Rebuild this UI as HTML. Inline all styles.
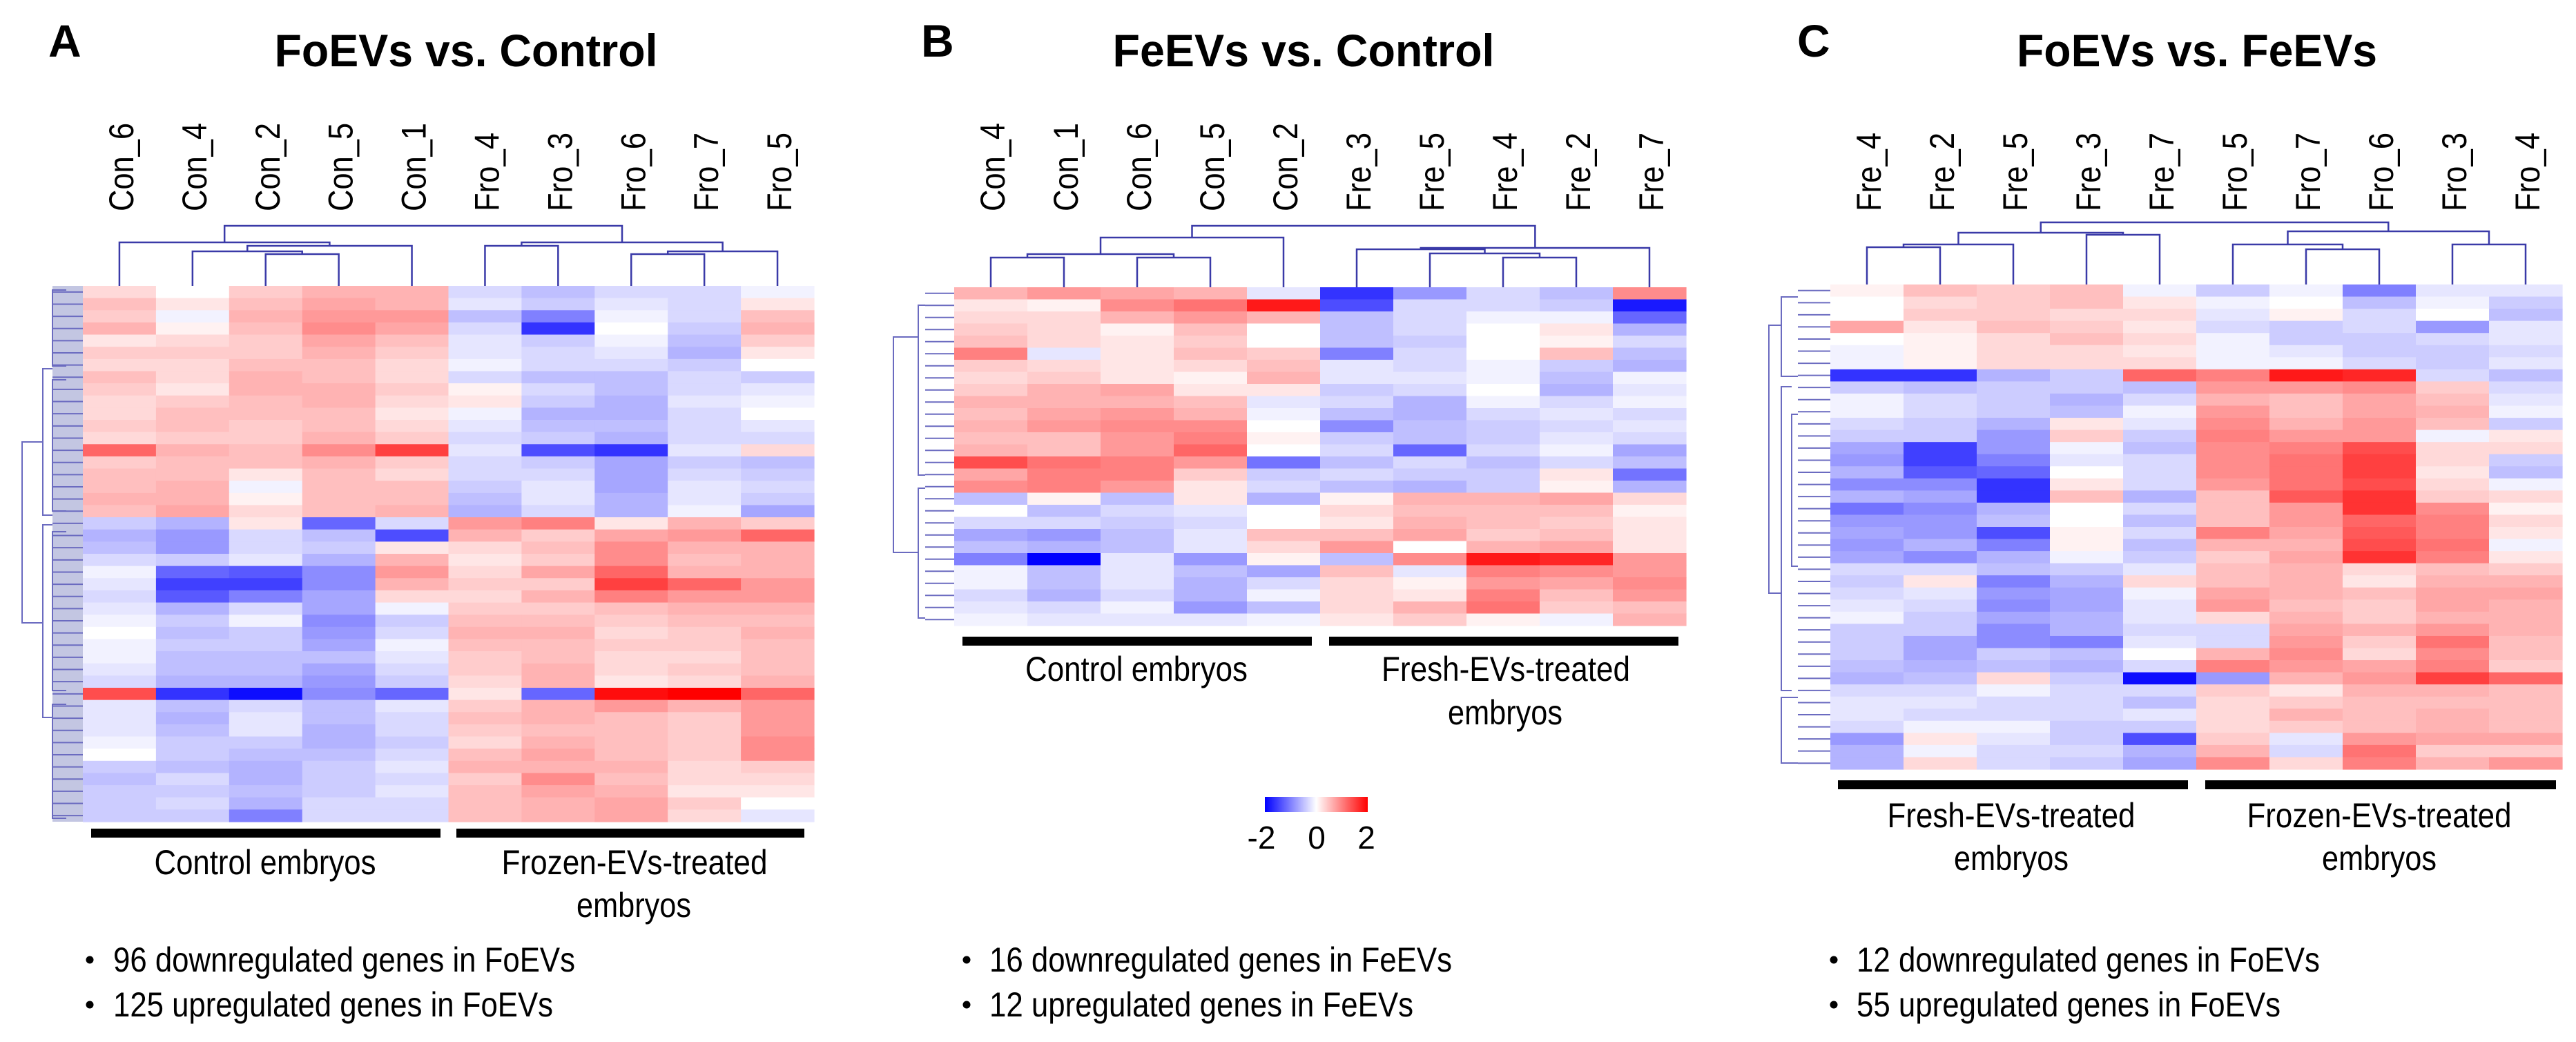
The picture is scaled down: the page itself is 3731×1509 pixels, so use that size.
<!DOCTYPE html>
<html><head><meta charset="utf-8"><style>
html,body{margin:0;padding:0;background:#fff;}
svg{display:block;font-family:"Liberation Sans",Arial,sans-serif;}
</style></head><body>
<svg id="fig" width="3731" height="1509" viewBox="0 0 3731 1509" xmlns="http://www.w3.org/2000/svg">
<text x="70" y="82" font-size="66" font-weight="bold">A</text>
<text x="1334" y="82" font-size="66" font-weight="bold">B</text>
<text x="2603" y="82" font-size="66" font-weight="bold">C</text>
<text x="675" y="96" font-size="66" font-weight="bold" text-anchor="middle" textLength="555" lengthAdjust="spacingAndGlyphs">FoEVs vs. Control</text>
<text x="1888" y="96" font-size="66" font-weight="bold" text-anchor="middle" textLength="553" lengthAdjust="spacingAndGlyphs">FeEVs vs. Control</text>
<text x="3182" y="96" font-size="66" font-weight="bold" text-anchor="middle" textLength="522" lengthAdjust="spacingAndGlyphs">FoEVs vs. FeEVs</text>

<!-- group bars & labels -->
<rect x="132" y="1200" width="506" height="13" fill="#000"/>
<rect x="661" y="1200" width="504" height="13" fill="#000"/>
<text x="384" y="1266" font-size="50" text-anchor="middle" textLength="321" lengthAdjust="spacingAndGlyphs">Control embryos</text>
<text x="919" y="1266" font-size="50" text-anchor="middle" textLength="385" lengthAdjust="spacingAndGlyphs">Frozen-EVs-treated</text>
<text x="918" y="1328" font-size="50" text-anchor="middle" textLength="166" lengthAdjust="spacingAndGlyphs">embryos</text>

<rect x="1394" y="922" width="506" height="13" fill="#000"/>
<rect x="1925" y="922" width="506" height="13" fill="#000"/>
<text x="1646" y="986" font-size="50" text-anchor="middle" textLength="322" lengthAdjust="spacingAndGlyphs">Control embryos</text>
<text x="2181" y="986" font-size="50" text-anchor="middle" textLength="360" lengthAdjust="spacingAndGlyphs">Fresh-EVs-treated</text>
<text x="2180" y="1049" font-size="50" text-anchor="middle" textLength="166" lengthAdjust="spacingAndGlyphs">embryos</text>

<rect x="2662" y="1130" width="507" height="13" fill="#000"/>
<rect x="3194" y="1130" width="508" height="13" fill="#000"/>
<text x="2913" y="1198" font-size="50" text-anchor="middle" textLength="359" lengthAdjust="spacingAndGlyphs">Fresh-EVs-treated</text>
<text x="2913" y="1260" font-size="50" text-anchor="middle" textLength="166" lengthAdjust="spacingAndGlyphs">embryos</text>
<text x="3446" y="1198" font-size="50" text-anchor="middle" textLength="383" lengthAdjust="spacingAndGlyphs">Frozen-EVs-treated</text>
<text x="3446" y="1260" font-size="50" text-anchor="middle" textLength="166" lengthAdjust="spacingAndGlyphs">embryos</text>

<!-- colour key -->
<defs><linearGradient id="key" x1="0" x2="1" y1="0" y2="0">
<stop offset="0" stop-color="#0000ff"/><stop offset="0.5" stop-color="#ffffff"/><stop offset="1" stop-color="#ff0000"/></linearGradient></defs>
<rect x="1832" y="1154" width="149" height="22" fill="url(#key)"/>
<text x="1827" y="1229" font-size="46" text-anchor="middle">-2</text>
<text x="1907" y="1229" font-size="46" text-anchor="middle">0</text>
<text x="1979" y="1229" font-size="46" text-anchor="middle">2</text>

<!-- bullets -->
<g font-size="50">
<circle cx="130" cy="1390" r="5.5" fill="#000"/><text x="164" y="1407" textLength="669" lengthAdjust="spacingAndGlyphs">96 downregulated genes in FoEVs</text>
<circle cx="130" cy="1455" r="5.5" fill="#000"/><text x="164" y="1472" textLength="637" lengthAdjust="spacingAndGlyphs">125 upregulated genes in FoEVs</text></g>
<g font-size="50">
<circle cx="1400" cy="1390" r="5.5" fill="#000"/><text x="1433" y="1407" textLength="670" lengthAdjust="spacingAndGlyphs">16 downregulated genes in FeEVs</text>
<circle cx="1400" cy="1455" r="5.5" fill="#000"/><text x="1433" y="1472" textLength="614" lengthAdjust="spacingAndGlyphs">12 upregulated genes in FeEVs</text></g>
<g font-size="50">
<circle cx="2656" cy="1390" r="5.5" fill="#000"/><text x="2689" y="1407" textLength="671" lengthAdjust="spacingAndGlyphs">12 downregulated genes in FoEVs</text>
<circle cx="2656" cy="1455" r="5.5" fill="#000"/><text x="2689" y="1472" textLength="614" lengthAdjust="spacingAndGlyphs">55 upregulated genes in FoEVs</text></g>
</svg>
<script>
const aLabels=["Con_6","Con_4","Con_2","Con_5","Con_1","Fro_4","Fro_3","Fro_6","Fro_7","Fro_5"];
const bLabels=["Con_4","Con_1","Con_6","Con_5","Con_2","Fre_3","Fre_5","Fre_4","Fre_2","Fre_7"];
const cLabels=["Fre_4","Fre_2","Fre_5","Fre_3","Fre_7","Fro_5","Fro_7","Fro_6","Fro_3","Fro_4"];
const aValues=[
[.3,0,.4,.6,.6,-.3,-.5,-.3,-.3,-.1],[.5,.2,.5,.7,.6,-.2,-.4,-.2,-.3,.2],[.4,-.1,.6,.8,.8,-.5,-1.0,-.1,-.3,.5],
[.6,.1,.5,.9,.7,-.3,-1.6,0,-.4,.6],[.2,.3,.4,.7,.5,-.2,-.4,-.1,-.5,.4],[.4,.4,.4,.6,.4,-.2,-.3,-.2,-.6,.2],
[.3,.3,.5,.5,.3,-.1,-.3,-.3,-.4,0],[.5,.3,.6,.5,.3,-.3,-.5,-.5,-.3,-.4],[.4,.2,.6,.6,.4,.1,-.3,-.5,-.3,-.2],
[.3,.4,.5,.6,.3,.2,-.4,-.6,-.2,-.1],[.3,.5,.5,.5,.2,-.1,-.6,-.6,-.3,0],[.4,.5,.4,.5,.3,-.2,-.5,-.5,-.3,-.2],
[.3,.4,.4,.6,.4,-.3,-.4,-.6,-.3,-.3],[1.2,.6,.5,.9,1.5,-.2,-1.4,-1.6,-.2,.3],[.4,.5,.5,.6,.4,-.3,-.4,-.7,-.4,-.5],
[.5,.5,.2,.5,.3,-.3,-.3,-.7,-.3,-.4],[.5,.6,-.1,.5,.5,-.4,-.2,-.7,-.2,-.3],[.6,.6,.1,.5,.5,-.5,-.2,-.6,-.2,-.4],
[.5,.7,.3,.5,.6,-.6,-.3,-.6,-.1,-.7],[-.4,-.6,.2,-1.2,-.3,.8,1.0,.2,.6,.4],[-.6,-.8,-.3,-.5,-1.4,.6,.4,.7,.8,1.2],
[-.5,-.8,-.3,-.4,.2,.3,.5,.9,.6,.6],[-.3,-.4,-.2,-.6,.6,.2,.4,.9,.5,.6],[-.1,-1.2,-1.3,-.9,.8,.3,.7,1.2,.6,.6],
[-.2,-1.5,-1.5,-.9,.6,.4,.4,1.5,1.2,.8],[-.3,-1.3,-1.0,-.7,.3,.3,.6,1.0,.8,.8],[-.2,-.6,-.3,-.7,-.1,.4,.4,.5,.6,.6],
[-.1,-.4,-.1,-.9,-.4,.5,.5,.4,.5,.5],[0,-.5,-.4,-.8,-.3,.6,.6,.3,.4,.6],[-.1,-.4,-.4,-.7,-.1,.5,.5,.4,.4,.5],
[-.1,-.5,-.5,-.5,-.2,.4,.5,.3,.3,.5],[-.2,-.5,-.5,-.7,-.3,.4,.6,.3,.4,.5],[-.3,-.6,-.6,-.8,-.4,.3,.6,.2,.3,.6],
[1.4,-1.6,-1.9,-.9,-1.2,.2,-1.2,1.9,2.0,1.2],[-.2,-.5,-.3,-.5,-.2,.4,.6,.8,.6,.8],[-.2,-.6,-.2,-.5,-.3,.5,.6,.5,.4,.8],
[-.2,-.5,-.2,-.6,-.3,.4,.5,.5,.4,.8],[-.1,-.4,-.4,-.6,-.4,.3,.6,.5,.4,.9],[0,-.4,-.5,-.5,-.3,.5,.7,.5,.4,.9],
[-.4,-.5,-.6,-.4,-.2,.6,.6,.6,.3,.4],[-.5,-.3,-.6,-.4,-.3,.4,.9,.5,.3,.3],[-.4,-.4,-.5,-.4,-.2,.5,.7,.6,.2,.2],
[-.4,-.3,-.6,-.3,-.3,.5,.6,.7,.4,0],[-.4,-.4,-1.0,-.3,-.3,.5,.6,.7,.3,-.2]];
const bValues=[
[.6,.8,.7,.6,-.2,-1.6,-.8,-.3,-.5,.9],[.2,.1,.9,1.1,1.8,-1.4,-.3,-.3,-.4,-1.8],[.3,.3,.6,.8,.6,-.5,-.3,-.1,-.1,-1.2],
[.4,.3,.1,.5,0,-.5,-.3,0,.2,-.6],[.5,.3,.2,.4,0,-.5,-.4,0,.1,-.3],[1.0,-.2,.2,.5,.4,-1.0,-.3,0,.5,-.5],
[.4,.3,.2,.3,.5,-.2,-.3,-.1,-.4,-.6],[.3,.4,.2,.1,.6,-.2,-.2,-.1,-.5,-.1],[.4,.6,.7,.2,.2,-.4,-.3,0,-.6,-.2],
[.6,.6,.6,.5,-.2,-.3,-.6,-.1,-.3,-.1],[.5,.7,.8,.6,-.1,-.5,-.6,-.3,-.2,-.3],[.6,.8,.9,.9,0,-.9,-.5,-.4,-.3,-.2],
[.5,.5,.8,1.0,.1,-.4,-.5,-.4,-.2,-.3],[.6,.5,.8,1.2,0,-.3,-1.2,-.3,-.1,-.7],[1.4,1.1,1.0,.8,-1.1,-.5,-.3,-.5,-.3,-.5],
[.7,1.0,1.0,.4,-.4,-.3,-.4,-.4,.2,-1.1],[.9,1.0,.8,.2,-.3,-.5,-.6,-.4,.1,-.6],[-.5,.1,-.5,.2,-.6,.1,.6,.6,.7,.3],
[0,-.5,-.3,-.2,0,.3,.5,.5,.5,.1],[-.3,-.3,-.4,-.3,0,.2,.6,.5,.4,.2],[-.7,-.8,-.5,-.2,.5,.5,.7,.4,.5,.2],
[-.5,-.6,-.5,-.2,.3,.8,0,.6,.7,.2],[-1.0,-2.0,-.2,-.8,.1,-.5,.9,1.8,1.7,.8],[-.1,-.5,-.2,-.5,-.7,.5,-.2,1.0,.9,.8],
[-.1,-.5,-.2,-.6,-.3,.3,.1,.8,.7,.9],[-.3,-.6,-.3,-.6,-.1,.3,.2,1.0,.5,.8],[-.2,-.3,-.1,-.8,-.5,.3,.6,1.1,.4,.5],
[-.1,-.2,-.2,-.2,-.1,.2,.4,.1,-.1,.6]];
const cValues=[
[.1,.5,.4,.5,-.1,-.4,-.1,-1.0,-.2,-.2],[0,.3,.4,.5,.2,-.1,0,-.5,-.1,-.4],[0,.4,.4,.3,.3,-.2,.1,-.3,0,-.5],
[.7,.2,.5,.4,.2,-.3,-.4,-.3,-.8,-.2],[0,.1,.3,.5,.3,-.1,-.4,-.4,-.3,-.2],[-.1,.1,.3,.3,.2,-.1,-.2,-.4,-.4,-.3],
[-.1,.1,.3,.3,.3,-.1,-.1,-.3,-.4,-.2],[-1.6,-1.6,-.6,-.4,1.2,1.0,1.8,1.7,-.3,-.5],[-.4,-.5,-.4,-.4,-.5,.8,.8,.9,.4,-.3],
[-.1,-.3,-.4,-.6,-.3,.6,.5,.7,.5,-.2],[-.1,-.3,-.4,-.5,-.1,.8,.5,.7,.6,-.1],[-.3,-.4,-.6,.2,-.2,.9,.6,.8,.5,-.4],
[-.4,-.4,-.8,.4,-.4,1.0,.8,.8,-.1,.2],[-.7,-1.5,-.8,-.1,-.5,.9,1.0,1.4,.3,.3],[-.8,-1.5,-1.0,-.2,-.3,.9,1.1,1.5,.3,-.4],
[-.6,-1.3,-1.2,0,-.3,.9,1.1,1.5,.2,-.5],[-.9,-.9,-1.6,.2,-.3,.8,1.1,1.4,.3,-.1],[-.6,-.7,-1.6,.5,-.6,.5,1.3,1.6,.4,.3],
[-1.1,-.9,-.6,0,-.3,.5,.8,1.6,.9,.1],[-.8,-.8,-.5,0,-.5,.5,.8,1.2,1.0,.3],[-.7,-.8,-1.4,.1,-.3,1.0,.7,1.3,1.0,.2],
[-.8,-.6,-1.0,.1,-.5,.6,.6,1.4,1.1,-.1],[-.7,-.9,-.6,-.1,-.4,.4,.7,1.6,1.0,.2],[-.3,-.3,-.5,-.4,-.2,.5,.6,.3,.5,.4],
[-.4,.2,-1.0,-.6,.3,.5,.6,.2,.6,.6],[-.3,-.2,-.8,-.7,-.1,.7,.6,.5,.7,.7],[-.2,-.3,-.9,-.7,-.2,.8,.5,.4,.7,.6],
[-.1,-.4,-.7,-.6,-.2,.3,.6,.4,.6,.6],[-.4,-.4,-.9,-.6,-.3,-.3,.7,.6,.8,.6],[-.4,-.7,-.9,-1.0,-.2,-.3,.8,.4,1.1,.5],
[-.4,-.7,-.4,-.5,0,.6,.9,.3,.9,.5],[-.5,-.6,-.5,-.6,-.3,1.0,.8,.7,1.0,.4],[-.6,-.5,.3,-.4,-1.9,-.8,.6,.8,1.5,1.2],
[-.3,-.3,-.1,-.3,-.3,.4,.2,.6,.6,.5],[-.2,-.2,-.3,-.3,-.5,.3,.4,.5,.5,.5],[-.2,-.3,-.3,-.3,-.2,.3,.6,.5,.6,.5],
[-.3,-.1,-.1,-.4,-.4,.3,.4,.5,.6,.5],[-.8,.2,-.2,-.4,-1.4,.4,-.2,.8,.7,.7],[-.6,-.1,-.3,-.3,-.6,.6,-.3,1.1,.4,.4],
[-.6,.3,-.3,-.4,-.7,.9,.3,1.0,.6,.8]];
// column dendrograms: [left,right,mergeHeight]
const treeA=[[0,[[1,[2,3,46],50],4,58],63],[[5,6,58],[[7,8,46],9,50],63],87];
const treeB=[[[[0,1,43],[2,3,43],48],4,72],[[5,[6,[7,8,43],49],55],9,57],89];
const treeC=[[[[0,1,54],2,58],[3,4,72],75],[[5,[6,7,51],58],[8,9,58],77],90];

const NS="http://www.w3.org/2000/svg";
const svg=document.getElementById("fig");
function mk(tag,attrs,parent){const e=document.createElementNS(NS,tag);for(const k in attrs)e.setAttribute(k,attrs[k]);(parent||svg).appendChild(e);return e;}
function color(v){const t=Math.min(1,Math.abs(v)/2);const c=Math.round(255*(1-t));return v<0?`rgb(${c},${c},255)`:`rgb(255,${c},${c})`;}

function panel(id,vals,labels,tree,x0,x1,y0,y1,labelY,rowDendro){
  const g=mk("g",{});
  
  
  const nc=labels.length,nr=vals.length,cw=(x1-x0)/nc,rh=(y1-y0)/nr;
  const xs=i=>x0+cw*i, ys=r=>y0+rh*r;
  vals.forEach((row,r)=>row.forEach((v,c)=>{
    const e=mk("rect",{x:xs(c).toFixed(2),y:ys(r).toFixed(2),width:(cw+0.6).toFixed(2),height:(rh+0.6).toFixed(2),fill:color(v)},g);
    
    
  }));
  labels.forEach((l,i)=>{
    const cx=xs(i)+cw/2+20;
    const len=l.startsWith("Con")?128:114;
    const t=mk("text",{x:cx,y:labelY,transform:`rotate(-90 ${cx} ${labelY})`,"font-size":50,textLength:len,lengthAdjust:"spacingAndGlyphs"});
    t.textContent=l;
    
    
  });
  // column dendrogram
  const dg=mk("g",{stroke:"#3a3aa8","stroke-width":2.5,fill:"none"});
  
  
  function walk(n){
    if(typeof n==="number")return {x:xs(n)+cw/2,y:y0};
    const a=walk(n[0]),b=walk(n[1]),h=y0-n[2];
    mk("path",{d:`M${a.x} ${a.y}V${h}H${b.x}V${b.y}`},dg);
    return {x:(a.x+b.x)/2,y:h};
  }
  walk(tree);
  // row dendrogram (simplified)
  const rg=mk("g",{stroke:"#6b6bc0","stroke-width":2,fill:"none"});
  
  
  const R=rowDendro;
  if(R.band) mk("rect",{x:R.leafX,y:y0,width:x0-R.leafX,height:y1-y0,fill:"#c3c6e2",stroke:"none"},rg);
  for(let r=0;r<nr;r++){const y=ys(r)+rh/2;mk("path",{d:`M${R.leafX} ${y}H${x0}`},rg);}
  R.brackets.forEach(b=>mk("path",{d:`M${b[3]} ${b[1]}H${b[0]}V${b[2]}H${b[3]}`},rg));
}
panel("a",aValues,aLabels,treeA,120,1179,414,1190,306,{leafX:76,band:true,brackets:[[32,640,902,62],[62,534,746,76],[62,760,1039,76],[76,420,530,96],[76,550,740,96],[76,770,1000,96],[76,1020,1185,96]]});
panel("b",bValues,bLabels,treeB,1382,2442,416,906,306,{leafX:1340,band:false,brackets:[[1294,488,800,1330],[1330,442,688,1340],[1330,707,895,1340]]});
panel("c",cValues,cLabels,treeC,2651,3711,412,1114,306,{leafX:2604,band:false,brackets:[[2562,471,859,2580],[2580,430,545,2604],[2580,560,1000,2595],[2595,600,820,2604],[2580,1010,1105,2604]]});
</script>
</body></html>
